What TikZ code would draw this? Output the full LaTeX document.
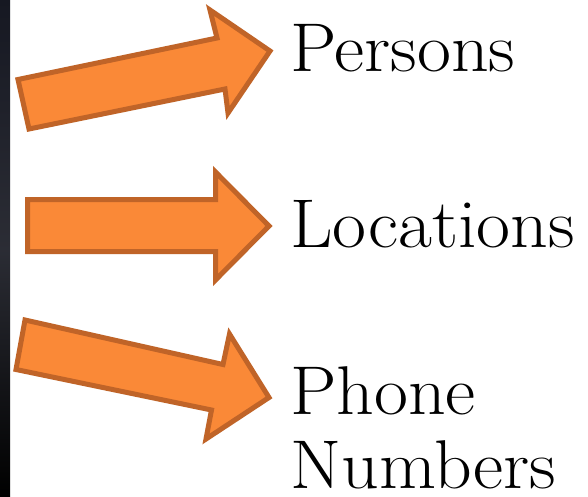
\documentclass[tikz,border=0pt]{standalone}
\usepackage{fontspec}
\newcommand\widelabel[1]{\scalebox{1.07}[1]{#1}}
\begin{document}
\begin{tikzpicture}[x=1pt,y=-1pt,
  blockarrow/.style={fill=arrowfill,draw=arrowline,line width=5pt,line join=miter},
  label/.style={anchor=base west,inner sep=0pt,font=\fontsize{69}{77}\selectfont}]
\definecolor{arrowfill}{RGB}{250,137,55}
\definecolor{arrowline}{RGB}{192,100,40}
\definecolor{darkedge}{RGB}{22,24,34}
\useasboundingbox (0,0) rectangle (588,497);
\fill[white] (0,0) rectangle (588,497);
% dark strip along the left edge
\shade[top color=darkedge,bottom color=black,middle color=darkedge!80!gray] (0,0) rectangle (10,497);
% block arrows
\draw[blockarrow] (18,79.5) -- (217,38) -- (210,10) -- (270,51) -- (228,113) -- (225,89) -- (29,129) -- cycle;
\draw[blockarrow] (27.5,199.5) -- (215.5,199.5) -- (215.5,172) -- (269,226) -- (215.5,280) -- (215.5,251.5) -- (27.5,251.5) -- cycle;
\draw[blockarrow] (25,320) -- (223,364.5) -- (229.5,334) -- (269,397.5) -- (206,439) -- (211.5,410) -- (16,369.5) -- cycle;
% labels
\node[label] (persons) at (290,72) {\widelabel{Persons}};
\node[label] (locations) at (290,247) {\widelabel{Locations}};
\node[label] (phone) at (290,414) {\widelabel{Phone}};
\node[label] (numbers) at (290,488) {\widelabel{Numbers}};
\end{tikzpicture}
\end{document}
